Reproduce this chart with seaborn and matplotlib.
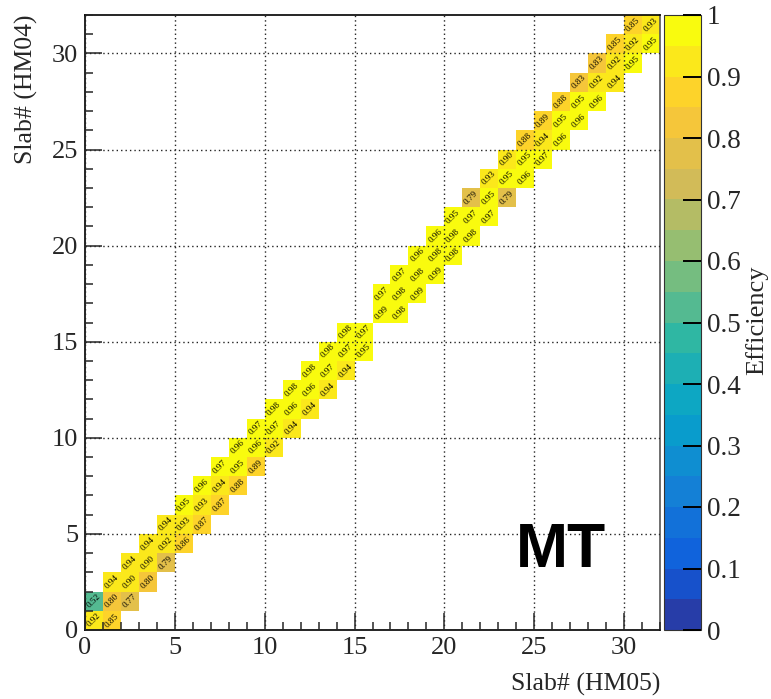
import numpy as np
import pandas as pd
import matplotlib
matplotlib.use("Agg")
import matplotlib.pyplot as plt
from matplotlib.colors import LinearSegmentedColormap, ListedColormap
from matplotlib.lines import Line2D
import seaborn as sns

# Efficiency per slab pair: for HM04 slab j, cells at HM05 slab j-1, j, j+1
n_slabs = 32
eff_left = [None, 0.52, 0.94, 0.94, 0.94, 0.94, 0.95, 0.96, 0.97, 0.96, 0.97, 0.98,
            0.98, 0.98, 0.98, 0.98, None, 0.97, 0.97, 0.96, 0.96, 0.95, 0.79, 0.93,
            0.90, 0.88, 0.89, 0.88, 0.83, 0.83, 0.85, 0.85]
eff_diag = [0.92, 0.80, 0.90, 0.90, 0.92, 0.93, 0.93, 0.94, 0.95, 0.96, 0.97, 0.96,
            0.96, 0.97, 0.97, 0.97, 0.99, 0.98, 0.98, 0.98, 0.98, 0.97, 0.95, 0.95,
            0.95, 0.94, 0.95, 0.95, 0.92, 0.92, 0.92, 0.93]
eff_right = [0.85, 0.77, 0.80, 0.79, 0.86, 0.87, 0.87, 0.88, 0.89, 0.92, 0.94, 0.94,
             0.94, 0.94, 0.95, None, 0.98, 0.99, 0.99, 0.98, 0.98, 0.97, 0.79, 0.96,
             0.97, 0.96, 0.96, 0.96, 0.94, 0.95, 0.95, None]

major_ticks = [0, 5, 10, 15, 20, 25, 30]
cbar_ticks = [0, 0.1, 0.2, 0.3, 0.4, 0.5, 0.6, 0.7, 0.8, 0.9, 1]
cbar_labels = ["0", "0.1", "0.2", "0.3", "0.4", "0.5", "0.6", "0.7", "0.8", "0.9", "1"]

# Bird palette (255-colour gradient), picked into 20 contour levels
bird_r = [0.2082, 0.0592, 0.0780, 0.0232, 0.1802, 0.5301, 0.8186, 0.9956, 0.9764]
bird_g = [0.1664, 0.3599, 0.5041, 0.6419, 0.7178, 0.7492, 0.7328, 0.7862, 0.9832]
bird_b = [0.5293, 0.8684, 0.8385, 0.7914, 0.6425, 0.4662, 0.3499, 0.1968, 0.0539]
stops = np.linspace(0, 1, len(bird_r))
bird = LinearSegmentedColormap.from_list(
    "bird", [(s, (r, g, b)) for s, r, g, b in zip(stops, bird_r, bird_g, bird_b)])
n_levels, n_grad = 20, 255
level_idx = [min(int((i + 0.99) * n_grad / n_levels), n_grad - 1) for i in range(n_levels)]
cmap = ListedColormap([bird(k / (n_grad - 1)) for k in level_idx])

grid = np.full((n_slabs, n_slabs), np.nan)
for j in range(n_slabs):
    for dx, vals in ((-1, eff_left), (0, eff_diag), (1, eff_right)):
        x = j + dx
        v = vals[j]
        if v is not None and 0 <= x < n_slabs:
            grid[j, x] = v
df = pd.DataFrame(grid)

sns.set_style("ticks")
plt.rcParams["font.family"] = ["Liberation Serif", "DejaVu Serif"]

W, H = 771, 699
ax_box = [85 / W, 69 / H, 575 / W, 615 / H]
cax_box = [664 / W, 69 / H, 37 / W, 615 / H]
fig = plt.figure(figsize=(W / 100, H / 100), dpi=100)
ax = fig.add_axes(ax_box)
cax = fig.add_axes(cax_box)

sns.heatmap(df, ax=ax, cmap=cmap, vmin=0, vmax=1, annot=True, fmt=".2f",
            annot_kws={"rotation": 45, "fontsize": 6.6, "color": "black",
                       "family": "Liberation Serif"},
            cbar=True, cbar_ax=cax, xticklabels=False, yticklabels=False)

ax.set_xlim(0, n_slabs)
ax.set_ylim(0, n_slabs)
for s in ax.spines.values():
    s.set_visible(True)
    s.set_linewidth(1.2)
    s.set_color("black")
ax.spines["right"].set_color("#555555")

ax.set_xticks(major_ticks)
ax.set_xticklabels([str(t) for t in major_ticks])
ax.set_yticks(major_ticks)
ax.set_yticklabels([str(t) for t in major_ticks])
ax.set_xticks(range(n_slabs + 1), minor=True)
ax.set_yticks(range(n_slabs + 1), minor=True)
ax.tick_params(which="major", direction="in", length=12, width=1.1,
               top=False, right=False, labelsize=19, pad=5,
               bottom=True, left=True, labelbottom=True, labelleft=True)
ax.tick_params(which="minor", direction="in", length=5.5, width=1.1,
               top=False, right=False, bottom=True, left=True)
for lab in ax.get_yticklabels():
    lab.set_rotation(0)
ax.set_xlabel("")
ax.set_ylabel("")
ax.set_axisbelow(False)
ax.grid(True, which="major", linestyle=(0, (1, 2.2)), color="#222222", linewidth=1.0)

ax.text(24.0, 3.28, "MT", fontsize=45, fontweight="bold",
        family=["Liberation Sans", "DejaVu Sans"], va="baseline", ha="left",
        color="black", zorder=5)

# Palette axis: labels on the right, tick marks pointing inward over the bands
cbar = ax.collections[0].colorbar
cbar.set_ticks(cbar_ticks)
cbar.set_ticklabels(cbar_labels)
cbar.outline.set_linewidth(0.8)
cbar.outline.set_edgecolor("#333333")
cbar.minorticks_off()
cax.yaxis.set_tick_params(which="major", length=0, labelsize=19.5, pad=4,
                          right=True, left=False, labelright=True, labelleft=False)
x0 = cax_box[0] + cax_box[2] * 0.5
x1 = cax_box[0] + cax_box[2]
for t in cbar_ticks:
    yf = cax_box[1] + cax_box[3] * t
    fig.add_artist(Line2D([x0, x1], [yf, yf], transform=fig.transFigure,
                          color="black", lw=1.4, zorder=20, solid_capstyle="butt"))

fig.text(660 / W, 1 - 684 / H, "Slab# (HM05)", ha="right", va="center", fontsize=18.5)
fig.text(26 / W, 1 - 15 / H, "Slab# (HM04)", rotation=90, ha="center", va="top",
         fontsize=18.5)
fig.text(757 / W, 1 - 320 / H, "Efficiency", rotation=90, ha="center", va="center",
         fontsize=19)

fig.savefig("out.png", dpi=100)
